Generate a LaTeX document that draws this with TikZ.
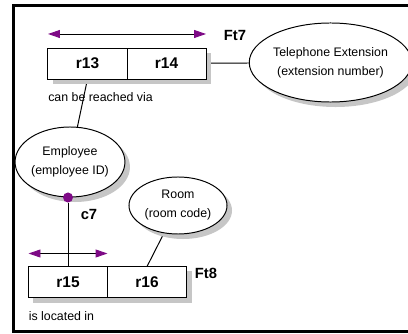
\documentclass[tikz,border=0pt]{standalone}
\usepackage{fontspec}
\setmainfont{Liberation Sans}
\usepackage{tikz}
\usetikzlibrary{arrows.meta,positioning,shapes.geometric,shadows,calc,backgrounds}
\definecolor{roleviolet}{HTML}{7E0A86}
\definecolor{shadowgray}{HTML}{C6C6C6}
\tikzset{
  boxshadow/.style={drop shadow={shadow xshift=0.125cm, shadow yshift=-0.125cm, fill=shadowgray, opacity=1}},
  rolebox/.style={draw=black, fill=white, line width=0.7pt, minimum width=1.975cm, minimum height=0.775cm, inner sep=0pt, outer sep=0pt, font=\fontsize{11}{13}\selectfont\bfseries, boxshadow},
  entity/.style={ellipse, draw=black, fill=white, line width=0.7pt, inner sep=0pt, align=center, font=\fontsize{8.8}{13.5}\selectfont, boxshadow},
  factlabel/.style={font=\fontsize{10.5}{12}\selectfont\bfseries, inner sep=0pt},
  readlabel/.style={font=\fontsize{8.8}{10}\selectfont, anchor=west, inner sep=0pt},
  uniquebar/.style={{Triangle[length=0.3cm,width=0.2cm,color=roleviolet]}-{Triangle[length=0.3cm,width=0.2cm,color=roleviolet]}, line width=0.7pt},
  roleline/.style={line width=0.7pt},
  mandatory/.style={circle, fill=roleviolet, minimum size=0.25cm, inner sep=0pt}
}
\begin{document}
\begin{tikzpicture}[x=0.025cm, y=-0.025cm]
  \useasboundingbox (0,0) rectangle (408,334);
  \draw[line width=2pt] (408,5.5) -- (13.5,5.5) -- (13.5,331.5) -- (408,331.5);

  \node[rolebox] (r13) at (87.5,63.5) {r13};
  \node[rolebox, right=0pt of r13] (r14) {r14};
  \node[entity, minimum width=3.675cm, minimum height=1.975cm] (phone) at (330.5,62.5) {Telephone Extension\\(extension number)};
  \node[entity, minimum width=2.725cm, minimum height=1.75cm] (employee) at (70,162) {Employee\\(employee ID)};
  \node[entity, minimum width=2.45cm, minimum height=1.425cm] (room) at (178,205.5) {Room\\(room code)};
  \node[rolebox] (r15) at (68,282) {r15};
  \node[rolebox, right=0pt of r15] (r16) {r16};
  \node[mandatory] (c7dot) at (employee.south -| r15.north) {};

  \coordinate (ft7l) at ($(r13.north west)+(0,-14)$);
  \coordinate (ft7r) at ($(r14.north east)+(0,-14)$);
  \coordinate (ft8l) at ($(r15.north west)+(0,-13)$);
  \coordinate (ft8r) at ($(r15.north east)+(0,-13)$);
  \draw[uniquebar] (ft7l) -- (ft7r);
  \draw[uniquebar] (ft8l) -- (ft8r);

  \node[factlabel] (ft7) at (235,35) {Ft7};
  \node[factlabel] (ft8) at (206,273) {Ft8};
  \node[factlabel] (c7) at (89,214) {c7};
  \node[readlabel] (read7) at ($(r13.south west)+(0,18)$) {can be reached via};
  \node[readlabel] (read8) at ($(r15.south west)+(0,19)$) {is located in};

  \begin{scope}[on background layer]
    \draw[roleline] (r14) -- (phone);
    \draw[roleline] (r13.south) -- (employee);
    \draw[roleline] (c7dot) -- (r15);
    \draw[roleline] (room) -- (r16.north);
  \end{scope}
\end{tikzpicture}
\end{document}
